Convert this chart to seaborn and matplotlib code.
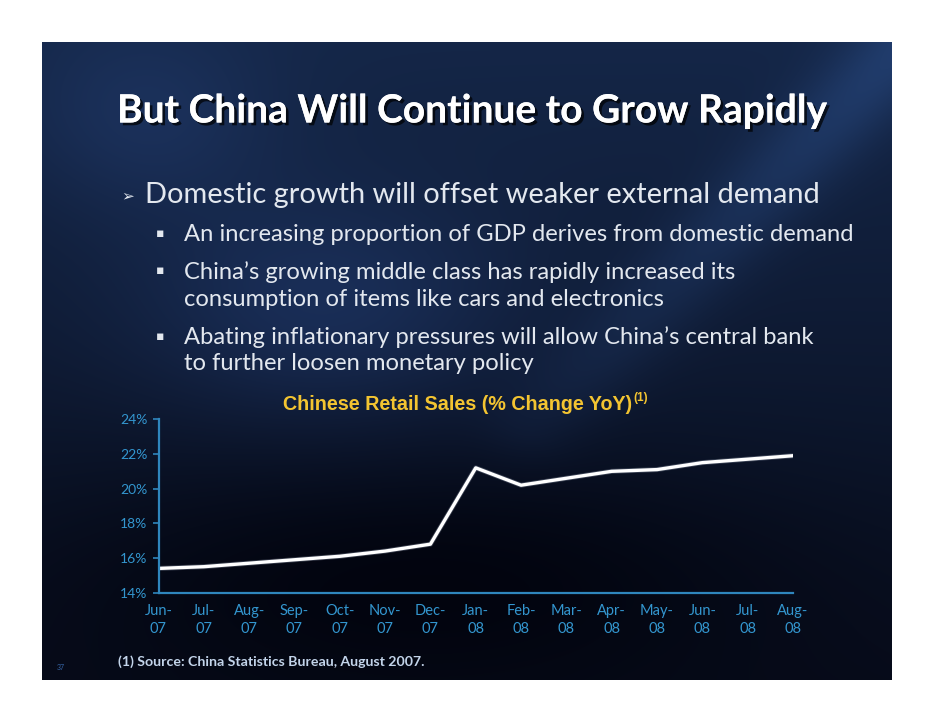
import numpy as np
import pandas as pd
import matplotlib
matplotlib.use("Agg")
import matplotlib.pyplot as plt
import matplotlib.patheffects as pe
from matplotlib import font_manager as fm
import seaborn as sns

# datos del grafico
months = ["Jun-\n07", "Jul-\n07", "Aug-\n07", "Sep-\n07", "Oct-\n07", "Nov-\n07", "Dec-\n07",
          "Jan-\n08", "Feb-\n08", "Mar-\n08", "Apr-\n08", "May-\n08", "Jun-\n08", "Jul-\n08", "Aug-\n08"]
sales = [15.4, 15.5, 15.7, 15.9, 16.1, 16.4, 16.8, 21.2, 20.2, 20.6, 21.0, 21.1, 21.5, 21.7, 21.9]
yticks = [14, 16, 18, 20, 22, 24]
ytick_labels = [f"{v}%" for v in yticks]

slide_title = "But China Will Continue to Grow Rapidly"
bullet_main = "Domestic growth will offset weaker external demand"
sub_bullets = [
    ["An increasing proportion of GDP derives from domestic demand"],
    ["China\u2019s growing middle class has rapidly increased its",
     "consumption of items like cars and electronics"],
    ["Abating inflationary pressures will allow China\u2019s central bank",
     "to further loosen monetary policy"],
]
chart_title = "Chinese Retail Sales (% Change YoY)"
footnote = "(1) Source: China Statistics Bureau, August 2007."

df = pd.DataFrame({"month": months, "sales": sales})


def has_font(name):
    try:
        fm.findfont(name, fallback_to_default=False)
        return True
    except Exception:
        return False


body = "Lato" if has_font("Lato") else "DejaVu Sans"

sns.set_theme(style="white")
plt.rcParams["font.family"] = [body, "DejaVu Sans"]

W, H = 936, 720
fig = plt.figure(figsize=(W / 100, H / 100), dpi=100, facecolor="white")
renderer = fig.canvas.get_renderer()


def fx(x):
    return x / W


def fy(y):
    return 1 - y / H


# fondo de la diapositiva (degradado azul)
sx0, sx1, sy0, sy1 = 42, 892, 42, 680
bg = fig.add_axes([fx(sx0), fy(sy1), fx(sx1 - sx0), (sy1 - sy0) / H])
bg.set_axis_off()
u, v = np.meshgrid(np.linspace(0, 1, 425), np.linspace(0, 1, 320))
top = np.array([0.08, 0.15, 0.28])
bot = np.array([0.03, 0.05, 0.11])
img = top[None, None, :] * (1 - v[..., None]) + bot[None, None, :] * v[..., None]
# banda diagonal clara a la derecha
p0 = np.array([1.02, 0.0])
p1 = np.array([0.58, 0.6])
d = p1 - p0
t = np.clip(((u - p0[0]) * d[0] + (v - p0[1]) * d[1]) / (d @ d), 0, 1)
dist = np.hypot(u - (p0[0] + t * d[0]), v - (p0[1] + t * d[1]))
band = np.exp(-(dist / 0.06) ** 2) * (1 - 0.7 * t)
img += band[..., None] * np.array([0.05, 0.09, 0.15])[None, None, :]
# remolino claro en el centro
blob = np.exp(-(((u - 0.33) / 0.22) ** 2 + ((v - 0.42) / 0.18) ** 2))
img += blob[..., None] * np.array([0.04, 0.07, 0.13])[None, None, :]
blob2 = np.exp(-(((u - 0.12) / 0.15) ** 2 + ((v - 0.12) / 0.15) ** 2))
img += blob2[..., None] * np.array([0.03, 0.05, 0.09])[None, None, :]
# zona del grafico mas oscura
dark = np.exp(-(((u - 0.45) / 0.45) ** 2 + ((v - 0.82) / 0.2) ** 2))
img -= dark[..., None] * np.array([0.03, 0.05, 0.08])[None, None, :]
bg.imshow(np.clip(img, 0, 1), aspect="auto", extent=[0, 1, 1, 0], interpolation="bilinear")
bg.set_xlim(0, 1)
bg.set_ylim(1, 0)


def fit_text(x, y, s, width_px, size=20, **kw):
    txt = fig.text(fx(x), fy(y), s, fontsize=size, **kw)
    bb = txt.get_window_extent(renderer)
    txt.set_fontsize(size * width_px / bb.width)
    return txt


# titulo
tt = fit_text(117, 111, slide_title, 710, weight="bold", color="white", va="center")
tt.set_path_effects([pe.withSimplePatchShadow(offset=(2, -2), shadow_rgbFace="black", alpha=0.7),
                     pe.Normal()])

# viñetas
txt_col = "#e3e8ef"
lvl1 = fit_text(145, 195, bullet_main, 677, color=txt_col, va="center")
fig.text(fx(121), fy(196), "\u27a2", fontsize=11, color=txt_col, va="center",
         family=["DejaVu Sans"])

ref = fig.text(fx(184), fy(235), sub_bullets[0][0], fontsize=20, color=txt_col, va="center")
sub_size = 20 * 672 / ref.get_window_extent(renderer).width
ref.set_fontsize(sub_size)
line_y = [[235], [272, 299], [337, 364]]
for lines, ys in zip(sub_bullets, line_y):
    fig.text(fx(160), fy(ys[0] - 1), "\u25aa", fontsize=9, color=txt_col, va="center",
             ha="center", family=["DejaVu Sans"])
    for s, yy in zip(lines, ys):
        if s == sub_bullets[0][0]:
            continue
        fig.text(fx(184), fy(yy), s, fontsize=sub_size, color=txt_col, va="center")

# titulo del grafico con superindice
gold = "#f3c431"
ct = fit_text(283, 404, chart_title, 350, family=["Liberation Sans", "DejaVu Sans"],
              weight="bold", color=gold, va="center")
ctb = ct.get_window_extent(renderer)
fig.text(ctb.x1 / W + 0.001, fy(398), "(1)", fontsize=ct.get_fontsize() * 0.6,
         family=["Liberation Sans", "DejaVu Sans"], weight="bold", color=gold, va="center")

# grafico de lineas
ax_l, ax_r, ax_t, ax_b = 158.5, 793, 419.3, 592.7
ax = fig.add_axes([fx(ax_l), fy(ax_b), fx(ax_r - ax_l), (ax_b - ax_t) / H])
ax.patch.set_alpha(0)
sns.lineplot(data=df, x="month", y="sales", sort=False, color="white", linewidth=2.4, ax=ax,
             path_effects=[pe.withStroke(linewidth=3.6, foreground="#8a94a8", alpha=0.35)])
ax.set_xlim(0, len(months) - 1)
ax.set_ylim(14, 24)
ax.set_yticks(yticks)
ax.set_yticklabels(ytick_labels)
ax.set_xlabel("")
ax.set_ylabel("")
axis_col = "#2f86bd"
tick_col = "#3396cf"
for side in ["top", "right"]:
    ax.spines[side].set_visible(False)
for side in ["left", "bottom"]:
    ax.spines[side].set_color(axis_col)
    ax.spines[side].set_linewidth(1.6)
ax.tick_params(axis="y", left=True, length=4, width=1.2, color=axis_col, pad=4,
               labelsize=10, labelcolor=tick_col)
ax.tick_params(axis="x", bottom=False, length=0, pad=8, labelsize=10.5, labelcolor=tick_col)
for lab in ax.get_xticklabels():
    lab.set_linespacing(1.35)
for lab in ax.get_yticklabels() + ax.get_xticklabels():
    lab.set_family([body, "DejaVu Sans"])

# nota al pie y numero de diapositiva
fit_text(118, 662, footnote, 307, weight="bold", color="#c3d4ea", va="center")
fig.text(fx(57), fy(667), "37", fontsize=5, color="#3563a3", va="center")

fig.savefig("out.png", dpi=100, facecolor="white")
